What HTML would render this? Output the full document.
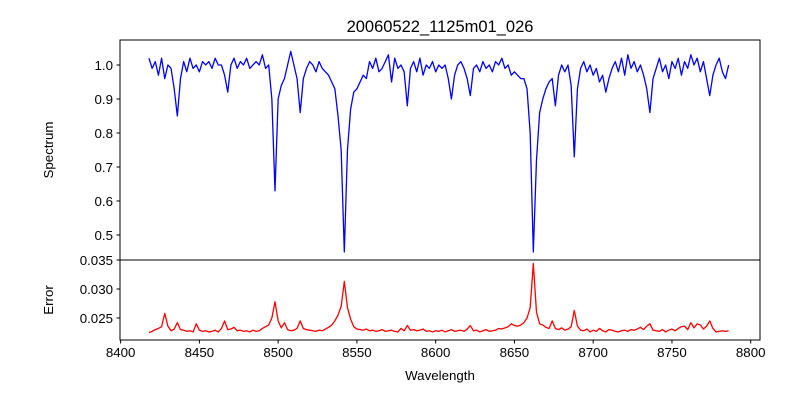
<!DOCTYPE html>
<html><head><meta charset="utf-8"><style>
body{margin:0;background:#fff}
svg{display:block;font-family:"Liberation Sans","DejaVu Sans",sans-serif}
</style></head><body>
<svg id="chart" width="800" height="400" viewBox="0 0 800 400">
<rect width="800" height="400" fill="#fff"/>
<text x="440" y="32" font-size="16.5" text-anchor="middle">20060522_1125m01_026</text>
<g id="g"></g>
</svg>
<script>
const startWl = 8418, stepWl = 2;
const flux = [
1.02,0.99,1.01,0.97,1.02,0.96,1.00,0.99,0.93,0.85,
0.96,1.01,0.98,1.02,0.99,1.00,0.98,1.01,1.00,1.01,
0.99,1.02,1.00,1.00,0.97,0.92,1.00,1.02,0.99,1.01,
1.00,1.02,0.99,1.00,1.01,1.00,1.03,0.99,1.00,0.90,
0.63,0.90,0.94,0.96,1.00,1.04,1.00,0.96,0.86,0.96,
0.99,1.01,1.00,0.98,1.01,0.99,0.98,0.97,0.95,0.93,
0.85,0.75,0.45,0.75,0.87,0.92,0.93,0.95,0.97,0.96,
1.01,0.99,1.02,0.98,0.99,1.01,1.03,0.95,1.02,0.99,
1.00,0.98,0.88,0.99,1.01,0.98,1.02,0.97,1.00,0.99,
1.01,0.98,1.00,0.99,1.00,0.96,0.90,0.97,1.00,1.01,
0.99,0.96,0.91,0.99,1.00,0.98,1.01,0.99,1.00,0.98,
1.01,1.00,1.02,0.99,1.00,0.97,0.98,0.97,0.96,0.96,
0.93,0.80,0.45,0.72,0.86,0.90,0.93,0.95,0.96,0.88,
0.97,1.00,0.98,1.00,0.94,0.73,0.93,0.99,1.01,0.98,
1.00,0.97,0.99,0.95,0.97,0.92,0.96,0.99,1.01,0.98,
1.02,0.97,1.03,0.99,1.01,0.98,1.00,0.97,0.93,0.86,
0.96,0.99,1.02,0.98,1.00,0.96,1.01,0.99,1.02,0.97,
1.01,0.99,1.03,1.00,1.02,0.98,1.01,0.96,0.91,0.97,
1.00,1.02,0.98,0.96,1.00];
const err = [
.0225,.0227,.0230,.0232,.0235,.0258,.0236,.0228,.0231,.0242,
.0230,.0229,.0227,.0228,.0226,.0240,.0229,.0227,.0228,.0226,
.0227,.0229,.0226,.0232,.0245,.0230,.0231,.0234,.0228,.0229,
.0227,.0228,.0226,.0229,.0227,.0228,.0232,.0235,.0238,.0250,
.0278,.0245,.0233,.0242,.0230,.0228,.0229,.0232,.0245,.0232,
.0230,.0229,.0228,.0227,.0229,.0228,.0231,.0234,.0238,.0245,
.0255,.0270,.0313,.0268,.0248,.0235,.0231,.0230,.0229,.0231,
.0228,.0229,.0227,.0228,.0230,.0227,.0228,.0229,.0227,.0226,
.0232,.0228,.0237,.0229,.0230,.0228,.0229,.0231,.0227,.0228,
.0226,.0228,.0227,.0229,.0226,.0228,.0230,.0227,.0228,.0229,
.0227,.0231,.0237,.0228,.0229,.0226,.0228,.0230,.0227,.0228,
.0229,.0232,.0231,.0233,.0235,.0240,.0237,.0236,.0238,.0242,
.0250,.0268,.0344,.0260,.0240,.0238,.0234,.0232,.0245,.0232,
.0230,.0233,.0229,.0231,.0235,.0263,.0236,.0229,.0228,.0231,
.0226,.0229,.0227,.0232,.0228,.0226,.0230,.0229,.0227,.0226,
.0228,.0229,.0227,.0230,.0229,.0231,.0234,.0230,.0236,.0240,
.0229,.0228,.0227,.0230,.0226,.0229,.0231,.0228,.0232,.0235,
.0236,.0230,.0242,.0233,.0240,.0238,.0231,.0236,.0245,.0232,
.0226,.0227,.0228,.0227,.0228];
const xTicks = [8400,8450,8500,8550,8600,8650,8700,8750,8800];
const specTicks = [0.5,0.6,0.7,0.8,0.9,1.0];
const errTicks = [0.025,0.030,0.035];

const NS='http://www.w3.org/2000/svg';
const g=document.getElementById('g');
const L=120,R=760,T1=40,B1=260,B2=340;
const xmin=8399.6,xmax=8805.9;
const X=v=>L+(v-xmin)/(xmax-xmin)*(R-L);
const Y1=v=>T1+(1.0735-v)/(1.0735-0.4265)*(B1-T1);
const Y2=v=>B1+(0.035-v)/(0.035-0.02121)*(B2-B1);
function el(t,a,txt){const e=document.createElementNS(NS,t);for(const k in a)e.setAttribute(k,a[k]);if(txt!==undefined)e.textContent=txt;g.appendChild(e);return e;}

let d1='',d2='';
flux.forEach((v,i)=>{d1+=(i?'L':'M')+X(startWl+i*stepWl).toFixed(2)+','+Y1(v).toFixed(2);});
err.forEach((v,i)=>{d2+=(i?'L':'M')+X(startWl+i*stepWl).toFixed(2)+','+Y2(v).toFixed(2);});
const p1=el('path',{d:d1,fill:'none',stroke:'#0000ff','stroke-width':1.3,'stroke-linejoin':'round'});


const p2=el('path',{d:d2,fill:'none',stroke:'#ff0000','stroke-width':1.3,'stroke-linejoin':'round'});



const f1=el('rect',{x:L,y:T1,width:R-L,height:B1-T1,fill:'none',stroke:'#000','stroke-width':1});


const f2=el('rect',{x:L,y:B1,width:R-L,height:B2-B1,fill:'none',stroke:'#000','stroke-width':1});



xTicks.forEach(v=>{const x=X(v);
 el('line',{x1:x,x2:x,y1:B2,y2:B2+3.5,stroke:'#000'});
 const t=el('text',{x:x,y:B2+17,'font-size':13.3,'text-anchor':'middle'},String(v));
 
 });
specTicks.forEach(v=>{const y=Y1(v);
 el('line',{x1:L-3.5,x2:L,y1:y,y2:y,stroke:'#000'});
 const t=el('text',{x:L-7,y:y+5,'font-size':13.3,'text-anchor':'end'},v.toFixed(1));
 
 });
errTicks.forEach(v=>{const y=Y2(v);
 el('line',{x1:L-3.5,x2:L,y1:y,y2:y,stroke:'#000'});
 const t=el('text',{x:L-7,y:y+5,'font-size':13.3,'text-anchor':'end'},v.toFixed(3));
 
 });

const a1=el('text',{x:0,y:0,'font-size':13.3,'text-anchor':'middle',transform:'translate(53,150) rotate(-90)'},'Spectrum');


const a2=el('text',{x:0,y:0,'font-size':13.3,'text-anchor':'middle',transform:'translate(53,300) rotate(-90)'},'Error');


const a3=el('text',{x:440,y:380,'font-size':13.3,'text-anchor':'middle'},'Wavelength');


</script>
</body></html>
